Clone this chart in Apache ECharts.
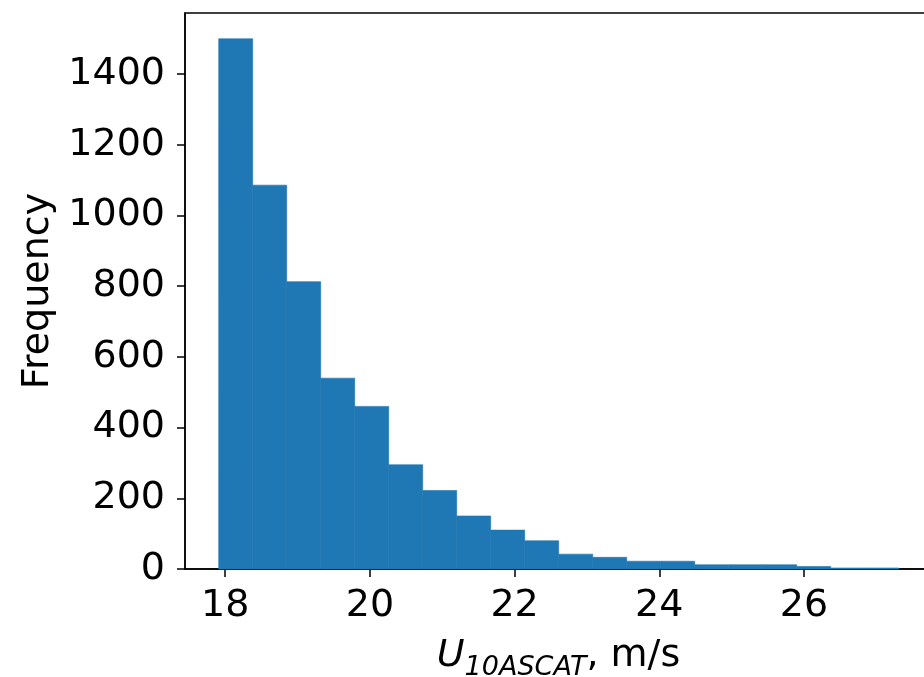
<!DOCTYPE html>
<html>
<head>
<meta charset="utf-8">
<script src="https://cdn.jsdelivr.net/npm/echarts@6/dist/echarts.min.js"></script>
<style>
  html, body { margin: 0; padding: 0; background: #fff; }
  #myChart { width: 924px; height: 677px; }
</style>
</head>
<body>
<div id="myChart"></div>
<script>
// histogram bin edges (m/s) and counts per bin
const binEdges = [17.91, 18.38, 18.85, 19.32, 19.79, 20.26, 20.73, 21.20, 21.67, 22.14, 22.61,
                  23.08, 23.55, 24.02, 24.49, 24.96, 25.43, 25.90, 26.37, 26.84, 27.31];
const counts = [1500, 1086, 813, 540, 460, 295, 222, 150, 110, 80,
                42, 33, 22, 22, 12, 12, 12, 7, 3, 3];
const xTicks = [18, 20, 22, 24, 26];
const yTicks = [0, 200, 400, 600, 800, 1000, 1200, 1400];

const bins = counts.map((c, i) => [binEdges[i], binEdges[i + 1], c]);

const font = 'DejaVu Sans';
let myChart = echarts.init(document.getElementById('myChart'));
myChart.setOption({
  animation: false,
  grid: {
    left: 185, top: 13, width: 747, height: 556,
    containLabel: false, outerBoundsMode: 'none',
    show: true, borderColor: '#000', borderWidth: 1.5, backgroundColor: 'transparent'
  },
  xAxis: {
    type: 'value',
    min: 17.444, max: 27.77,
    axisLine: { show: true, lineStyle: { color: '#000', width: 1.5 } },
    axisTick: { show: true, inside: false, length: 8, lineStyle: { color: '#000', width: 1.5 }, customValues: xTicks },
    axisLabel: { color: '#000', fontFamily: font, fontSize: 38, margin: 18, customValues: xTicks },
    splitLine: { show: false },
    name: '{u|U}{sub|10ASCAT}{n|, m/s}',
    nameLocation: 'middle',
    nameGap: 62,
    nameTextStyle: {
      rich: {
        u: { fontFamily: font, fontStyle: 'italic', fontSize: 38, color: '#000', lineHeight: 44, verticalAlign: 'bottom' },
        sub: { fontFamily: font, fontStyle: 'italic', fontSize: 27, color: '#000', lineHeight: 44, verticalAlign: 'bottom', padding: [0, 0, -6, 0] },
        n: { fontFamily: font, fontSize: 38, color: '#000', lineHeight: 44, verticalAlign: 'bottom' }
      }
    }
  },
  yAxis: {
    type: 'value',
    min: 0, max: 1573,
    axisLine: { show: true, lineStyle: { color: '#000', width: 1.5 } },
    axisTick: { show: true, inside: false, length: 8, lineStyle: { color: '#000', width: 1.5 }, customValues: yTicks },
    axisLabel: {
      color: '#000', fontFamily: font, fontSize: 38, margin: 20, customValues: yTicks,
      formatter: v => String(v)
    },
    splitLine: { show: false },
    name: 'Frequency',
    nameLocation: 'middle',
    nameGap: 128,
    nameTextStyle: { fontFamily: font, fontSize: 38, color: '#000' }
  },
  series: [{
    type: 'custom',
    data: bins,
    encode: { x: [0, 1], y: 2 },
    renderItem: function (params, api) {
      const p0 = api.coord([api.value(0), api.value(2)]);
      const p1 = api.coord([api.value(1), 0]);
      return {
        type: 'rect',
        shape: { x: p0[0], y: p0[1], width: p1[0] - p0[0], height: p1[1] - p0[1] },
        style: { fill: '#1f77b4', stroke: '#1f77b4', lineWidth: 0.6 }
      };
    }
  }]
});
</script>
</body>
</html>
